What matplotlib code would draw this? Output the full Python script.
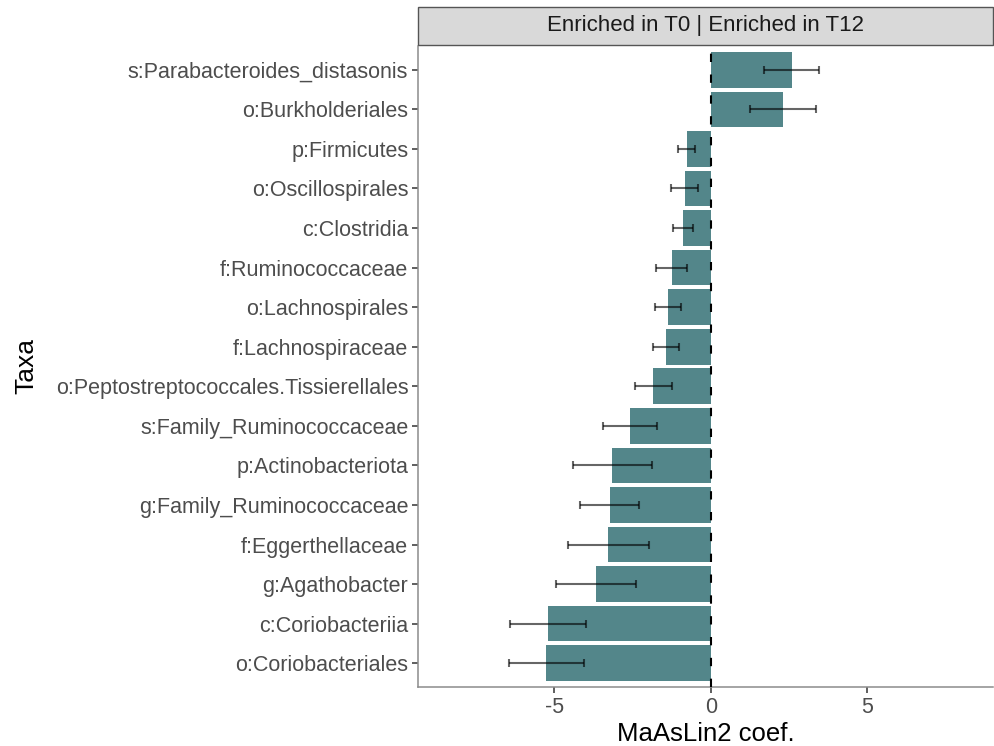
import numpy as np
import matplotlib
matplotlib.use('Agg')
import matplotlib.pyplot as plt
from matplotlib.patches import Rectangle

plt.rcParams['font.family'] = ['Liberation Sans', 'DejaVu Sans']

# taxa from top to bottom, MaAsLin2 coefficients and standard errors
taxa = ['s:Parabacteroides_distasonis', 'o:Burkholderiales', 'p:Firmicutes',
        'o:Oscillospirales', 'c:Clostridia', 'f:Ruminococcaceae',
        'o:Lachnospirales', 'f:Lachnospiraceae',
        'o:Peptostreptococcales.Tissierellales', 's:Family_Ruminococcaceae',
        'p:Actinobacteriota', 'g:Family_Ruminococcaceae', 'f:Eggerthellaceae',
        'g:Agathobacter', 'c:Coriobacteriia', 'o:Coriobacteriales']
coef = [2.58, 2.29, -0.78, -0.84, -0.90, -1.26, -1.37, -1.43,
        -1.84, -2.59, -3.16, -3.23, -3.28, -3.68, -5.20, -5.26]
stderr = [0.88, 1.05, 0.26, 0.43, 0.32, 0.50, 0.41, 0.41,
          0.60, 0.87, 1.26, 0.94, 1.29, 1.27, 1.21, 1.19]
xticks = [-5, 0, 5]
strip_label = 'Enriched in T0 | Enriched in T12'

W, H = 995, 746
fig = plt.figure(figsize=(W / 100, H / 100), dpi=100)

# panel in pixel coords
pl, pr, pt, pb = 418, 993, 46, 687
ax = fig.add_axes([pl / W, 1 - pb / H, (pr - pl) / W, (pb - pt) / H])

n = len(taxa)
ypos = np.arange(n, 0, -1)
bar_col = '#53868A'
ax.barh(ypos, coef, height=0.9, color=bar_col, zorder=2)
ax.errorbar(coef, ypos, xerr=stderr, fmt='none', ecolor='black', alpha=0.6,
            elinewidth=1.5, capsize=3, capthick=1.5, zorder=3)
ax.axvline(0, color='black', lw=1.5, linestyle=(0, (4, 6)), zorder=4)

ax.set_xlim(-9.36, 9.01)
ax.set_ylim(0.4, n + 0.6)
ax.set_yticks(ypos)
ax.set_yticklabels(taxa)
ax.set_xticks(xticks)
ax.set_xticklabels([str(v) for v in xticks])

for s in ['top', 'right']:
    ax.spines[s].set_visible(False)
for s in ['left', 'bottom']:
    ax.spines[s].set_color('#8C8C8C')
    ax.spines[s].set_linewidth(1.1)
ax.tick_params(axis='both', colors='#4D4D4D', labelsize=15.5, length=4,
               width=1.1, pad=3)
ax.tick_params(axis='both', color='#333333')

ax.set_xlabel('MaAsLin2 coef.', fontsize=18.5, color='black', labelpad=3)
ax.set_ylabel('Taxa', fontsize=19, color='black')
ax.yaxis.set_label_coords((38 - pl) / (pr - pl), 0.5, transform=ax.transAxes)

# facet strip on top
st, sb = 7, 45
sax = fig.add_axes([pl / W, 1 - sb / H, (pr - pl) / W, (sb - st) / H])
sax.set_xlim(0, 1)
sax.set_ylim(0, 1)
sax.add_patch(Rectangle((0, 0), 1, 1, facecolor='#D9D9D9', edgecolor='#555555',
                        lw=1.0, transform=sax.transAxes, clip_on=False))
sax.text(0.5, 0.5, strip_label, ha='center', va='center', fontsize=16,
         color='#1A1A1A')
sax.axis('off')

fig.savefig('out.png', dpi=100)
